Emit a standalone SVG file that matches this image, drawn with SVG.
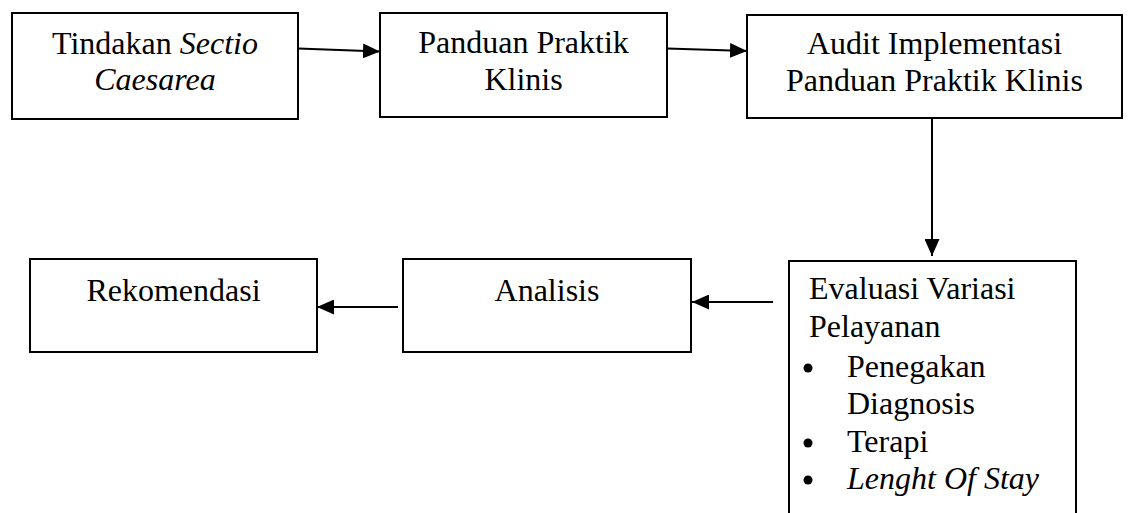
<svg xmlns="http://www.w3.org/2000/svg" width="1128" height="513" viewBox="0 0 1128 513">
<style>
.box{fill:#fff;stroke:#000;stroke-width:2}
.t{font-family:"Liberation Serif","Times New Roman",serif;font-size:32px;fill:#000}
.c{text-anchor:middle}
.i{font-style:italic}
.conn{stroke:#000;stroke-width:2;fill:none}
</style>
<defs>
<marker id="ah" viewBox="0 0 17 15" refX="17" refY="7.5" markerWidth="17" markerHeight="15" markerUnits="userSpaceOnUse" orient="auto">
<path d="M0,0 L17,7.5 L0,15 Z" fill="#000"/>
</marker>
</defs>
<rect width="1128" height="513" fill="#fff"/>
<g id="connectors">
<line class="conn" x1="298" y1="48.5" x2="380" y2="51.5" marker-end="url(#ah)"/>
<line class="conn" x1="667" y1="48.5" x2="747" y2="51" marker-end="url(#ah)"/>
<line class="conn" x1="932" y1="119" x2="932" y2="256" marker-end="url(#ah)"/>
<line class="conn" x1="773" y1="302" x2="692" y2="302" marker-end="url(#ah)"/>
<line class="conn" x1="398" y1="307" x2="317" y2="307" marker-end="url(#ah)"/>
</g>
<g id="n1">
<rect class="box" x="12" y="13" width="286" height="106"/>
<text class="t c" x="155" y="54">Tindakan <tspan class="i">Sectio</tspan></text>
<text class="t c i" x="155" y="90">Caesarea</text>
</g>
<g id="n2">
<rect class="box" x="380" y="13" width="287" height="104"/>
<text class="t c" x="523.5" y="53">Panduan Praktik</text>
<text class="t c" x="523.5" y="90">Klinis</text>
</g>
<g id="n3">
<rect class="box" x="747" y="15" width="375" height="103"/>
<text class="t c" x="934.5" y="54">Audit Implementasi</text>
<text class="t c" x="934.5" y="91">Panduan Praktik Klinis</text>
</g>
<g id="n4">
<path class="box" d="M789,514 L789,261 L1076,261 L1076,514"/>
<text class="t" x="809" y="299">Evaluasi Variasi</text>
<text class="t" x="809" y="337">Pelayanan</text>
<circle cx="808" cy="368" r="4.5" fill="#000"/>
<text class="t" x="847" y="377">Penegakan</text>
<text class="t" x="847" y="414">Diagnosis</text>
<circle cx="808" cy="443" r="4.5" fill="#000"/>
<text class="t" x="847" y="452">Terapi</text>
<circle cx="808" cy="480" r="4.5" fill="#000"/>
<text class="t i" x="847" y="489">Lenght Of Stay</text>
</g>
<g id="n5">
<rect class="box" x="403" y="259" width="288" height="93"/>
<text class="t c" x="547" y="301">Analisis</text>
</g>
<g id="n6">
<rect class="box" x="30" y="259" width="287" height="93"/>
<text class="t c" x="173.5" y="301">Rekomendasi</text>
</g>
</svg>
